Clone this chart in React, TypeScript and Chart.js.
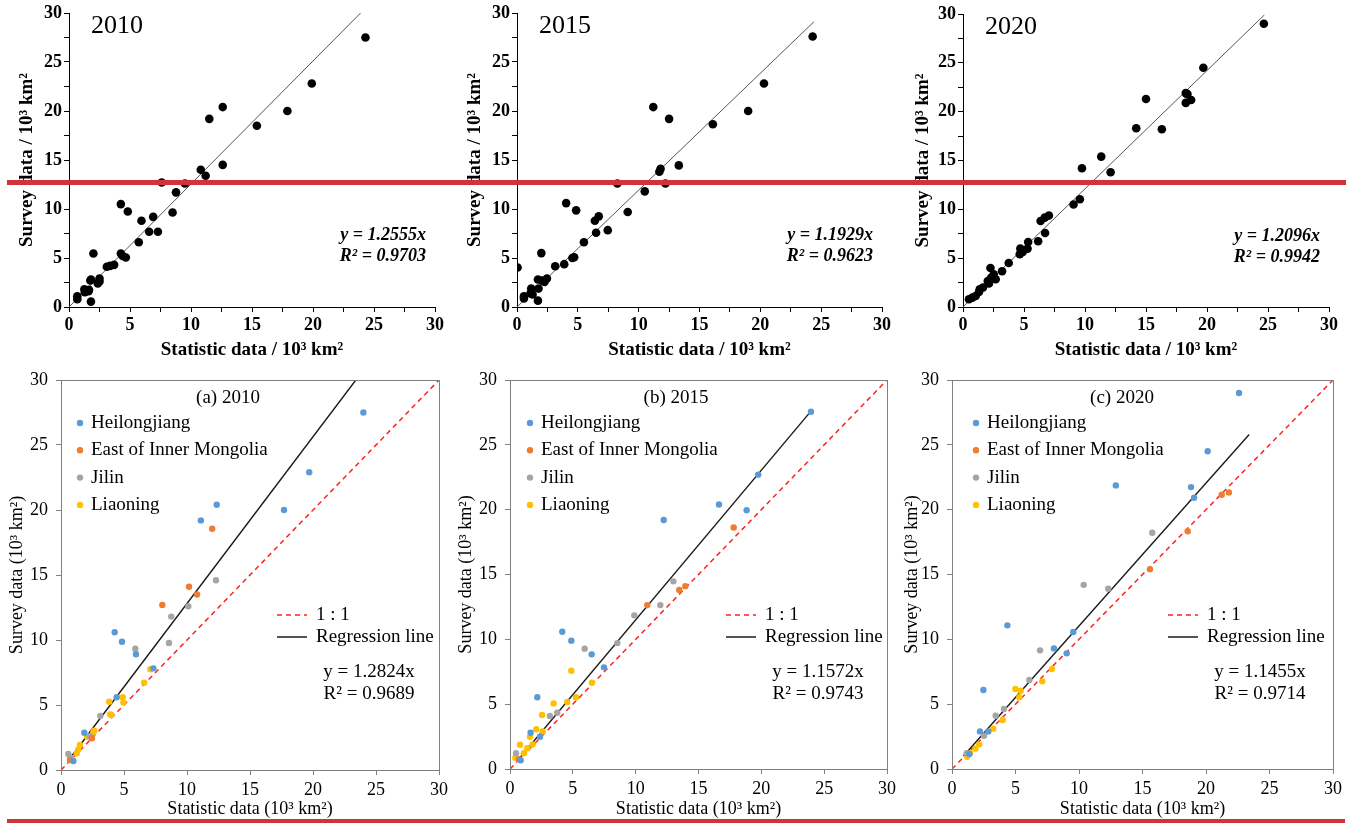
import React, { useEffect, useRef } from 'react';
import { Chart, registerables } from 'chart.js';

Chart.register(...registerables);

type Pt = [number, number];

const FONT = '"Liberation Serif", "Times New Roman", Times, serif';

// ---------- tick values ----------
const majorTicks = [0, 5, 10, 15, 20, 25, 30];
const topTicks = [0, 2.5, 5, 7.5, 10, 12.5, 15, 17.5, 20, 22.5, 25, 27.5, 30];

// ---------- labels ----------
const years = ['2010', '2015', '2020'];
const topEq = ['y = 1.2555x', 'y = 1.1929x', 'y = 1.2096x'];
const topR2 = ['R² = 0.9703', 'R² = 0.9623', 'R² = 0.9942'];
const bottomTitles = ['(a) 2010', '(b) 2015', '(c) 2020'];
const bottomEq = ['y = 1.2824x', 'y = 1.1572x', 'y = 1.1455x'];
const bottomR2 = ['R² = 0.9689', 'R² = 0.9743', 'R² = 0.9714'];
const lineLegend = ['1 : 1', 'Regression line'];
const seriesNames = ['Heilongjiang', 'East of Inner Mongolia', 'Jilin', 'Liaoning'];
const seriesColors = ['#5B9BD5', '#ED7D31', '#A5A5A5', '#FFC000'];

// ---------- top row data (statistic, survey) ----------
const top2010: Pt[] = [
  [24.3, 27.5], [19.9, 22.8], [17.9, 20.0], [15.4, 18.5], [12.6, 20.4], [11.5, 19.2], [12.6, 14.5],
  [10.8, 14.0], [11.2, 13.4], [7.6, 12.7], [9.5, 12.6], [8.77, 11.7], [4.25, 10.5], [4.82, 9.75],
  [6.9, 9.2], [5.94, 8.8], [8.49, 9.65], [6.57, 7.68], [7.29, 7.68], [5.72, 6.6], [2.0, 5.46],
  [4.25, 5.46], [4.66, 5.05], [4.4, 5.2], [3.7, 4.3], [3.1, 4.1], [3.37, 4.2], [2.5, 2.9],
  [1.75, 2.7], [2.36, 2.4], [1.26, 1.8], [1.64, 1.75], [1.8, 0.55], [0.68, 1.1], [0.68, 0.8],
  [1.3, 1.5], [1.6, 1.6], [2.5, 2.6], [1.8, 2.8],
];
const top2015: Pt[] = [
  [24.3, 27.6], [20.3, 22.8], [19.0, 20.0], [16.1, 18.65], [11.2, 20.4], [12.5, 19.2], [13.3, 14.45],
  [11.8, 14.1], [11.7, 13.8], [8.25, 12.6], [12.2, 12.6], [10.5, 11.8], [4.04, 10.6], [4.86, 9.86],
  [9.1, 9.7], [6.72, 9.25], [6.4, 8.8], [6.5, 7.57], [7.46, 7.84], [5.5, 6.6], [2.0, 5.5],
  [4.7, 5.08], [4.55, 5.0], [3.88, 4.37], [3.14, 4.16], [0.05, 4.03], [2.46, 2.9], [1.72, 2.8],
  [2.26, 2.56], [2.05, 2.7], [1.17, 1.88], [1.77, 1.88], [1.1, 1.37], [0.57, 1.1], [0.57, 0.86],
  [1.72, 0.65], [1.28, 1.27],
];
const top2020: Pt[] = [
  [24.66, 29.0], [19.7, 24.5], [18.26, 21.9], [18.4, 21.8], [18.7, 21.2], [18.26, 20.9], [15.0, 21.3],
  [14.2, 18.3], [16.3, 18.2], [11.33, 15.4], [9.75, 14.2], [12.1, 13.8], [9.58, 11.03], [9.06, 10.5],
  [7.04, 9.36], [6.7, 9.15], [6.36, 8.81], [6.73, 7.58], [6.16, 6.73], [5.34, 6.66], [5.29, 5.98],
  [4.7, 5.98], [4.65, 5.4], [4.9, 5.63], [3.75, 4.5], [3.2, 3.66], [2.25, 4.0], [2.68, 2.84],
  [2.3, 3.0], [2.03, 2.66], [2.13, 2.4], [1.64, 1.99], [1.37, 1.81], [1.31, 1.54], [1.04, 1.13],
  [0.77, 0.96], [0.49, 0.79], [2.52, 3.35],
];
const topReg2010: Pt[] = [[0, 0], [23.9, 30]];
const topReg2015: Pt[] = [[0, 0], [24.4, 29.1]];
const topReg2020: Pt[] = [[0, 0], [24.7, 29.9]];

// ---------- bottom row data ----------
const b2010Heilongjiang: Pt[] = [
  [24.0, 27.5], [19.7, 22.9], [17.7, 20.0], [12.36, 20.4], [11.1, 19.2], [4.26, 10.6], [4.84, 9.87],
  [5.95, 8.9], [7.33, 7.82], [4.42, 5.6], [1.85, 2.87], [0.98, 0.69],
];
const b2010East: Pt[] = [[12.0, 18.56], [10.16, 14.1], [10.8, 13.5], [8.04, 12.7], [2.46, 2.44], [0.71, 0.77]];
const b2010Jilin: Pt[] = [
  [12.3, 14.6], [10.1, 12.6], [8.75, 11.8], [8.57, 9.77], [5.9, 9.33], [3.12, 4.15], [2.3, 2.6],
  [0.58, 1.23], [0.75, 0.95],
];
const b2010Liaoning: Pt[] = [
  [7.09, 7.75], [6.6, 6.72], [4.9, 5.6], [4.95, 5.2], [3.83, 5.25], [3.9, 4.28], [4.0, 4.23],
  [2.64, 3.03], [2.56, 2.87], [2.08, 2.56], [1.5, 1.92], [1.37, 1.59], [1.25, 1.28],
];

const b2015Heilongjiang: Pt[] = [
  [23.95, 27.55], [19.75, 22.7], [18.83, 19.95], [16.63, 20.4], [12.23, 19.2], [4.16, 10.59],
  [4.88, 9.9], [6.5, 8.84], [7.48, 7.84], [2.17, 5.53], [1.64, 2.8], [2.39, 2.49], [0.85, 0.67],
];
const b2015East: Pt[] = [[17.8, 18.63], [13.95, 14.1], [13.47, 13.8], [10.92, 12.64], [0.7, 0.75]];
const b2015Jilin: Pt[] = [
  [13.0, 14.47], [11.96, 12.64], [9.89, 11.85], [8.54, 9.71], [5.94, 9.28], [3.76, 4.34],
  [3.18, 4.09], [0.48, 1.21],
];
const b2015Liaoning: Pt[] = [
  [4.88, 7.58], [6.52, 6.65], [5.25, 5.53], [4.56, 5.17], [3.47, 5.06], [2.55, 4.16], [2.09, 3.06],
  [2.6, 2.9], [1.59, 2.49], [0.8, 1.87], [1.8, 1.9], [1.38, 1.6], [1.11, 1.21], [0.42, 0.87],
];

const b2020Heilongjiang: Pt[] = [
  [22.6, 29.0], [20.13, 24.5], [12.9, 21.87], [18.82, 21.74], [19.06, 20.92], [4.36, 11.08],
  [8.03, 9.3], [9.55, 10.56], [9.03, 8.92], [2.47, 6.09], [2.2, 2.9], [2.86, 2.9], [1.36, 1.16],
];
const b2020East: Pt[] = [[21.24, 21.15], [21.8, 21.33], [18.56, 18.33], [15.59, 15.4]];
const b2020Jilin: Pt[] = [
  [15.77, 18.22], [10.37, 14.2], [12.3, 13.9], [6.93, 9.15], [6.09, 6.86], [4.09, 4.63],
  [3.44, 4.11], [2.52, 2.57], [1.16, 1.21],
];
const b2020Liaoning: Pt[] = [
  [7.87, 7.71], [7.11, 6.76], [4.99, 6.17], [5.41, 6.04], [5.3, 5.53], [3.99, 3.78], [3.25, 3.11],
  [2.15, 1.9], [1.84, 1.57], [1.42, 1.21], [1.2, 0.95],
];

const oneToOne: Pt[] = [[0, 0], [30, 30]];
const botReg2010: Pt[] = [[0.6, 0.75], [23.4, 30]];
const botReg2015: Pt[] = [[0.55, 0.6], [23.95, 27.6]];
const botReg2020: Pt[] = [[0.9, 1.0], [23.4, 25.8]];

// ---------- layout ----------
type Box = { left: number; top: number; width: number; height: number };
type Area = { left: number; top: number; right: number; bottom: number };

interface PanelCfg {
  kind: 'top' | 'bottom';
  idx: number;
  canvas: Box;
  area: Area;
  yTitlePad: number;
  legendDot?: number;
  legendText?: number;
  titleX?: number;
  datasets: any[];
}

const toXY = (pts: Pt[]) => pts.map(([x, y]) => ({ x, y }));

function topDatasets(points: Pt[], reg: Pt[]) {
  return [
    { data: toXY(points), pointRadius: 4.3, pointBackgroundColor: '#000', pointBorderWidth: 0, showLine: false },
    { data: toXY(reg), showLine: true, pointRadius: 0, borderColor: '#555', borderWidth: 1 },
  ];
}

function bottomDatasets(series: Pt[][], reg: Pt[]) {
  const sc = series.map((s, i) => ({
    data: toXY(s),
    pointRadius: 3.2,
    pointBackgroundColor: seriesColors[i],
    pointBorderWidth: 0,
    showLine: false,
  }));
  return [
    ...sc,
    { data: toXY(reg), showLine: true, pointRadius: 0, borderColor: '#1a1a1a', borderWidth: 1.4 },
    { data: toXY(oneToOne), showLine: true, pointRadius: 0, borderColor: '#ff2020', borderWidth: 1.5, borderDash: [5, 4] },
  ];
}

const panels: PanelCfg[] = [
  {
    kind: 'top', idx: 0,
    canvas: { left: 0, top: 0, width: 450, height: 370 },
    area: { left: 69, top: 13, right: 435, bottom: 307 },
    yTitlePad: 16, datasets: topDatasets(top2010, topReg2010),
  },
  {
    kind: 'top', idx: 1,
    canvas: { left: 450, top: 0, width: 450, height: 370 },
    area: { left: 517, top: 13, right: 882, bottom: 307 },
    yTitlePad: 14, datasets: topDatasets(top2015, topReg2015),
  },
  {
    kind: 'top', idx: 2,
    canvas: { left: 900, top: 0, width: 457, height: 370 },
    area: { left: 963, top: 14, right: 1329, bottom: 307 },
    yTitlePad: 12, datasets: topDatasets(top2020, topReg2020),
  },
  {
    kind: 'bottom', idx: 0,
    canvas: { left: 0, top: 370, width: 450, height: 457 },
    area: { left: 61, top: 380, right: 439, bottom: 770 },
    yTitlePad: 6, legendDot: 19, legendText: 30, titleX: 167,
    datasets: bottomDatasets([b2010Heilongjiang, b2010East, b2010Jilin, b2010Liaoning], botReg2010),
  },
  {
    kind: 'bottom', idx: 1,
    canvas: { left: 450, top: 370, width: 450, height: 457 },
    area: { left: 510, top: 380, right: 887, bottom: 769 },
    yTitlePad: 5, legendDot: 20, legendText: 31, titleX: 166,
    datasets: bottomDatasets([b2015Heilongjiang, b2015East, b2015Jilin, b2015Liaoning], botReg2015),
  },
  {
    kind: 'bottom', idx: 2,
    canvas: { left: 900, top: 370, width: 457, height: 457 },
    area: { left: 952, top: 380, right: 1333, bottom: 769 },
    yTitlePad: 1, legendDot: 24, legendText: 35, titleX: 170,
    datasets: bottomDatasets([b2020Heilongjiang, b2020East, b2020Jilin, b2020Liaoning], botReg2020),
  },
];

function buildConfig(cfg: PanelCfg): any {
  const isTop = cfg.kind === 'top';
  const yW = cfg.area.left - cfg.canvas.left;
  const xH = cfg.canvas.top + cfg.canvas.height - cfg.area.bottom;
  const padTop = cfg.area.top - cfg.canvas.top;
  const padRight = cfg.canvas.left + cfg.canvas.width - cfg.area.right;
  const tickVals = isTop ? topTicks : majorTicks;
  const tickFont = isTop ? { family: FONT, size: 18, weight: 'bold' } : { family: FONT, size: 18 };
  const titleFont = isTop ? { family: FONT, size: 19, weight: 'bold' } : { family: FONT, size: 18 };
  const axisColor = isTop ? '#000' : '#808080';
  const label = (v: number) => (majorTicks.includes(v) ? String(v) : '');
  const sup = isTop ? ' / 10³ km²' : ' (10³ km²)';

  const common = {
    type: 'linear',
    min: 0,
    max: 30,
    afterBuildTicks: (s: any) => {
      s.ticks = tickVals.map((v) => ({ value: v }));
    },
    grid: { display: true, drawOnChartArea: false, drawTicks: true, tickLength: 5, tickColor: axisColor, tickWidth: 1 },
    border: { display: true, color: axisColor, width: 1 },
  };

  const annot = {
    id: 'annot',
    afterDraw(chart: any) {
      const ctx: CanvasRenderingContext2D = chart.ctx;
      const a = chart.chartArea;
      ctx.save();
      ctx.fillStyle = '#000';
      if (isTop) {
        ctx.font = `26px ${FONT}`;
        ctx.textAlign = 'left';
        ctx.textBaseline = 'middle';
        ctx.fillText(years[cfg.idx], a.left + 22, a.top + 13);
        ctx.font = `italic bold 18px ${FONT}`;
        ctx.textAlign = 'right';
        ctx.fillText(topEq[cfg.idx], a.right - 9, a.top + 222);
        ctx.fillText(topR2[cfg.idx], a.right - 9, a.top + 243);
      } else {
        // frame
        ctx.strokeStyle = '#808080';
        ctx.lineWidth = 1;
        ctx.strokeRect(Math.round(a.left) + 0.5, Math.round(a.top) + 0.5, Math.round(a.right - a.left), Math.round(a.bottom - a.top));
        ctx.textBaseline = 'middle';
        ctx.textAlign = 'center';
        ctx.font = `19px ${FONT}`;
        ctx.fillText(bottomTitles[cfg.idx], a.left + (cfg.titleX || 167), a.top + 18);
        // series legend
        ctx.textAlign = 'left';
        seriesNames.forEach((n, i) => {
          const y = a.top + 43 + i * 27.3;
          ctx.fillStyle = seriesColors[i];
          ctx.beginPath();
          ctx.arc(a.left + (cfg.legendDot || 19), y, 3.2, 0, Math.PI * 2);
          ctx.fill();
          ctx.fillStyle = '#000';
          ctx.fillText(n, a.left + (cfg.legendText || 30), y);
        });
        // line legend
        const ly = [a.top + 235, a.top + 257];
        ctx.lineWidth = 1.5;
        ctx.strokeStyle = '#ff2020';
        ctx.setLineDash([5, 4]);
        ctx.beginPath();
        ctx.moveTo(a.left + 216, ly[0]);
        ctx.lineTo(a.left + 246, ly[0]);
        ctx.stroke();
        ctx.setLineDash([]);
        ctx.strokeStyle = '#1a1a1a';
        ctx.beginPath();
        ctx.moveTo(a.left + 216, ly[1]);
        ctx.lineTo(a.left + 246, ly[1]);
        ctx.stroke();
        ctx.fillStyle = '#000';
        ctx.fillText(lineLegend[0], a.left + 255, ly[0]);
        ctx.fillText(lineLegend[1], a.left + 255, ly[1]);
        // equation
        ctx.textAlign = 'center';
        ctx.fillText(bottomEq[cfg.idx], a.left + 308, a.top + 292);
        ctx.fillText(bottomR2[cfg.idx], a.left + 308, a.top + 314);
      }
      ctx.restore();
    },
  };

  return {
    type: 'scatter',
    data: { datasets: cfg.datasets },
    options: {
      responsive: false,
      animation: false,
      events: [],
      layout: { padding: { left: 0, top: padTop, right: padRight, bottom: 0 } },
      plugins: { legend: { display: false }, tooltip: { enabled: false }, title: { display: false } },
      scales: {
        x: {
          ...common,
          position: 'bottom',
          afterFit: (s: any) => {
            s.height = xH;
            s.paddingLeft = 0;
            s.paddingRight = 0;
          },
          ticks: {
            autoSkip: false,
            maxRotation: 0,
            padding: isTop ? 3 : 4,
            color: '#000',
            font: tickFont,
            callback: (v: any) => label(Number(v)),
          },
          title: {
            display: true,
            text: 'Statistic data' + sup,
            color: '#000',
            font: titleFont,
            padding: { top: 0, bottom: isTop ? 9 : 7 },
          },
        },
        y: {
          ...common,
          position: 'left',
          afterFit: (s: any) => {
            s.width = yW;
            s.paddingTop = 0;
            s.paddingBottom = 0;
          },
          ticks: {
            autoSkip: false,
            padding: isTop ? 2 : 8,
            color: '#000',
            font: tickFont,
            callback: (v: any) => label(Number(v)),
          },
          title: {
            display: true,
            text: 'Survey data' + sup,
            color: '#000',
            font: titleFont,
            padding: { top: cfg.yTitlePad, bottom: 0 },
          },
        },
      },
    },
    plugins: [annot],
  };
}

function ChartPanel({ cfg }: { cfg: PanelCfg }) {
  const ref = useRef<HTMLCanvasElement>(null);
  useEffect(() => {
    if (!ref.current) return;
    const chart = new Chart(ref.current, buildConfig(cfg));
    return () => chart.destroy();
  }, [cfg]);
  const { left, top, width, height } = cfg.canvas;
  return (
    <div style={{ position: 'absolute', left, top, width, height }}>
      <canvas ref={ref} width={width} height={height} style={{ width, height, display: 'block' }} />
    </div>
  );
}

export default function App() {
  return (
    <div style={{ position: 'absolute', left: 0, top: 0, width: 1357, height: 827, background: '#fff', overflow: 'hidden' }}>
      {panels.map((p, i) => (
        <ChartPanel key={i} cfg={p} />
      ))}
      <div style={{ position: 'absolute', left: 7, top: 180, width: 1339, height: 5, background: '#d0343b', zIndex: 5 }} />
      <div style={{ position: 'absolute', left: 7, top: 819, width: 1338, height: 4, background: '#d0343b', zIndex: 5 }} />
    </div>
  );
}
